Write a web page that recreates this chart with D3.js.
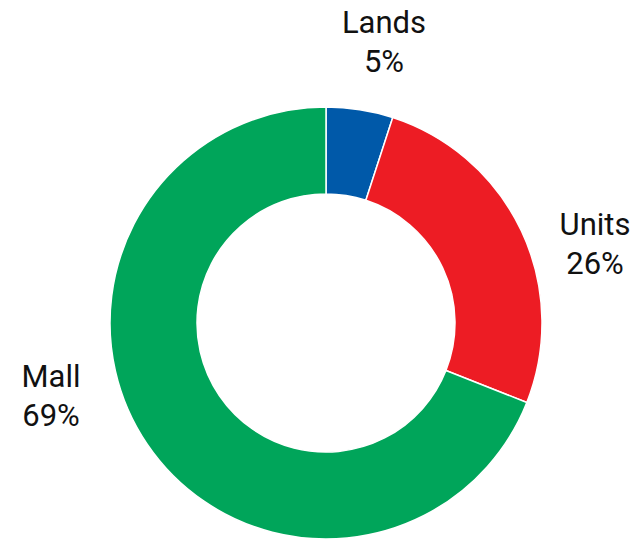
<!DOCTYPE html>
<html>
<head>
<meta charset="utf-8">
<script src="https://cdn.jsdelivr.net/npm/d3@7/dist/d3.min.js"></script>
<style>
  html, body { margin: 0; padding: 0; background: #ffffff; }
  svg { display: block; }
  text { font-family: Roboto, "Noto Sans", sans-serif; }
</style>
</head>
<body>
<svg id="chart" width="636" height="540"></svg>
<script>
// Revenue mix by segment
const categories = ["Lands", "Units", "Mall"];
const values = [5, 26, 69];
const colors = ["#0059A9", "#ED1C24", "#00A55A"];

// Label anchors (centre x, first-line baseline y) for each segment
const labelAnchors = {
  Lands: [384, 33],
  Units: [595, 235],
  Mall: [51, 387]
};

const width = 636, height = 540;
const cx = 326, cy = 323;
const outerR = 216, innerR = 129;

const svg = d3.select("#chart");
const g = svg.append("g").attr("transform", `translate(${cx},${cy})`);

const data = categories.map((c, i) => ({ name: c, value: values[i], color: colors[i] }));

const pie = d3.pie().value(d => d.value).sort(null);
const arc = d3.arc().innerRadius(innerR).outerRadius(outerR);

g.selectAll("path")
  .data(pie(data))
  .join("path")
  .attr("d", arc)
  .attr("fill", d => d.data.color)
  .attr("stroke", "#ffffff")
  .attr("stroke-width", 1.5)
  .attr("stroke-linejoin", "round");

const labels = svg.selectAll("text.label")
  .data(pie(data))
  .join("text")
  .attr("class", "label")
  .attr("text-anchor", "middle")
  .attr("font-size", 31)
  .attr("fill", "#111111");

labels.append("tspan")
  .attr("x", d => labelAnchors[d.data.name][0])
  .attr("y", d => labelAnchors[d.data.name][1])
  .text(d => d.data.name);

labels.append("tspan")
  .attr("x", d => labelAnchors[d.data.name][0])
  .attr("y", d => labelAnchors[d.data.name][1] + 39)
  .text(d => d3.format(".0f")(d.data.value) + "%");
</script>
</body>
</html>
